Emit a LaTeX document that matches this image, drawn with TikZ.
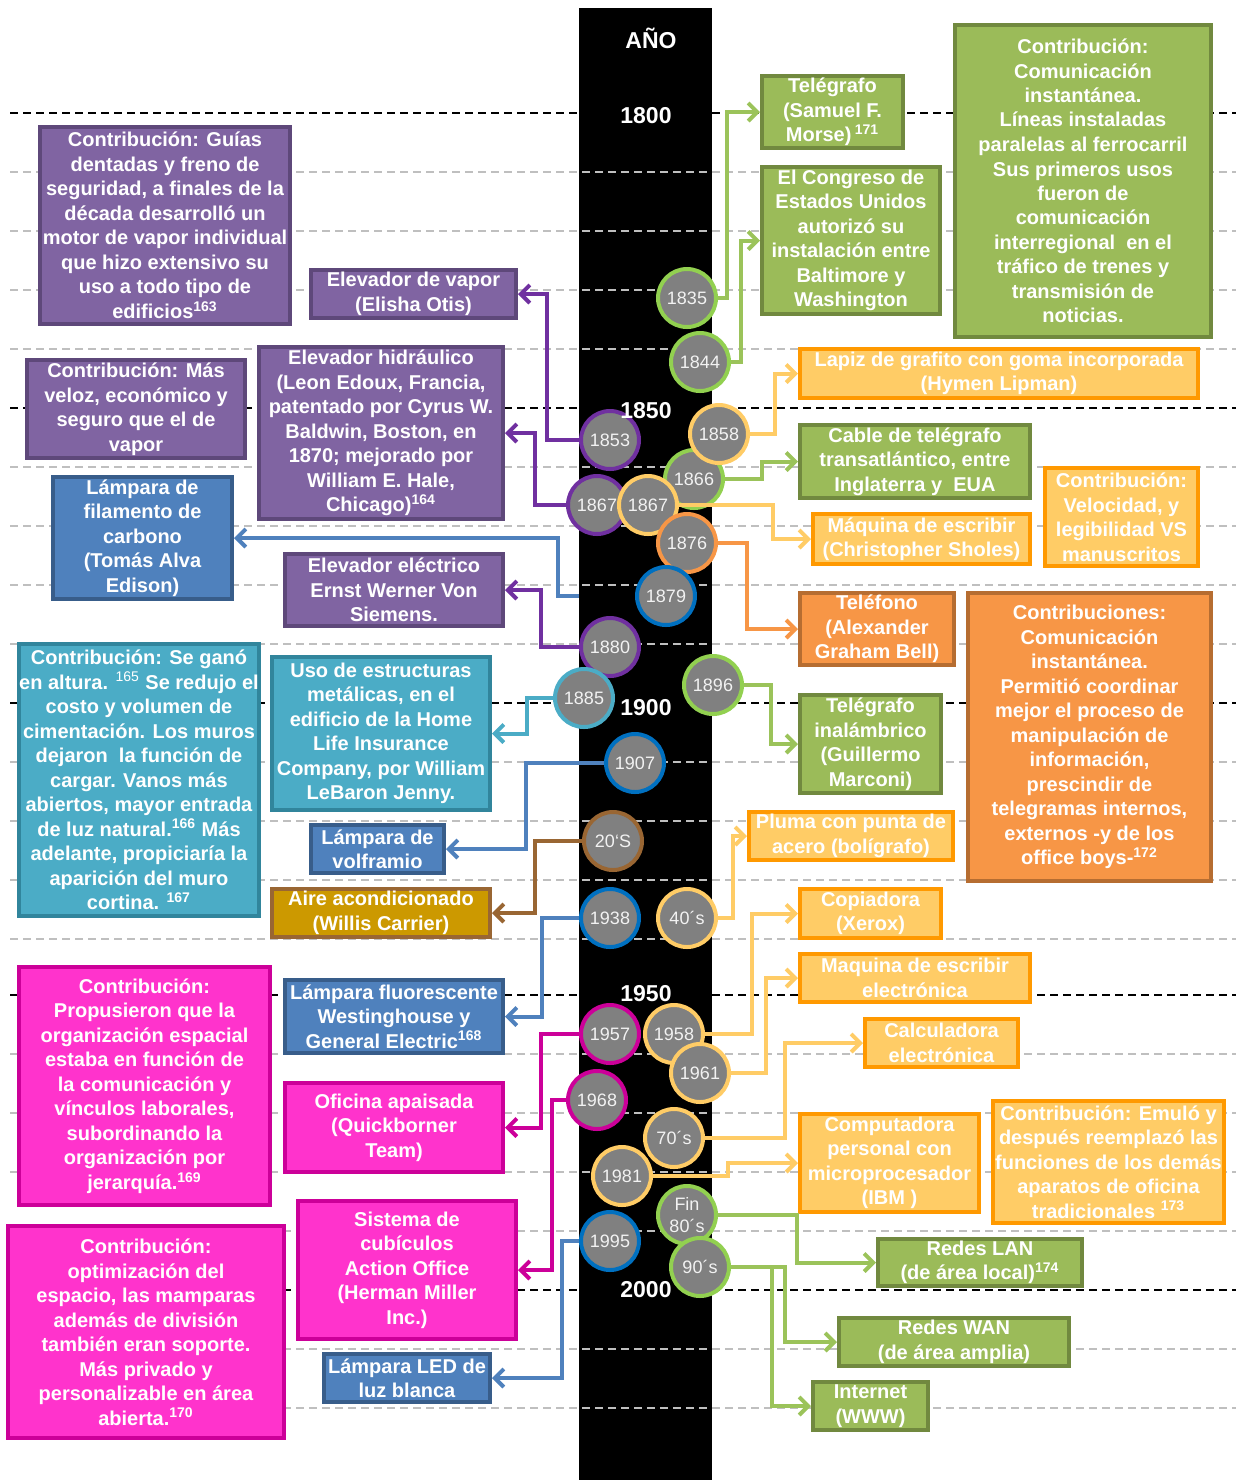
\documentclass[tikz,border=0pt]{standalone}
\usepackage{fontspec}
\setmainfont{Liberation Sans}
\usepackage{tikz}
\usetikzlibrary{arrows.meta}
% box fills and frames
\definecolor{pfill}{RGB}{128,100,162}
\definecolor{pedge}{RGB}{94,72,122}
\definecolor{bfill}{RGB}{79,129,189}
\definecolor{bedge}{RGB}{56,93,138}
\definecolor{tfill}{RGB}{75,172,198}
\definecolor{tedge}{RGB}{49,133,156}
\definecolor{gfill}{RGB}{155,187,89}
\definecolor{gedge}{RGB}{113,137,63}
\definecolor{yfill}{RGB}{255,204,102}
\definecolor{yedge}{RGB}{255,153,0}
\definecolor{ofill}{RGB}{247,150,70}
\definecolor{oedge}{RGB}{182,109,49}
\definecolor{afill}{RGB}{204,153,0}
\definecolor{aedge}{RGB}{153,102,51}
\definecolor{mfill}{RGB}{255,51,204}
\definecolor{medge}{RGB}{204,0,153}
% rings and connectors
\definecolor{rpurple}{RGB}{112,48,160}
\definecolor{rgreen}{RGB}{146,208,80}
\definecolor{ryellow}{RGB}{255,204,102}
\definecolor{rorange}{RGB}{247,150,70}
\definecolor{rblue}{RGB}{0,112,192}
\definecolor{rteal}{RGB}{75,172,198}
\definecolor{rbrown}{RGB}{153,102,51}
\definecolor{rmagenta}{RGB}{204,0,153}
\definecolor{lblue}{RGB}{79,129,189}
\definecolor{lgreen}{RGB}{155,195,90}
\definecolor{dashgray}{RGB}{191,191,191}
\definecolor{discgray}{RGB}{128,128,128}

\begin{document}
\begin{tikzpicture}[x=0.5pt,y=-0.5pt,
  box/.style={draw,line width=2pt,align=center,inner sep=0pt,text=white,
    font=\fontsize{10}{12.25}\selectfont\bfseries},
  wh/.style 2 args={minimum width=#1*0.5pt,minimum height=#2*0.5pt},
  pbox/.style={box,fill=pfill,draw=pedge},
  bbox/.style={box,fill=bfill,draw=bedge},
  tbox/.style={box,fill=tfill,draw=tedge},
  gbox/.style={box,fill=gfill,draw=gedge},
  ybox/.style={box,fill=yfill,draw=yedge},
  obox/.style={box,fill=ofill,draw=oedge},
  abox/.style={box,fill=afill,draw=aedge},
  mbox/.style={box,fill=mfill,draw=medge},
  yr/.style={circle,fill=discgray,draw=#1,line width=2pt,minimum size=29pt,
    inner sep=0pt,align=center,text=white!95!black,
    font=\fontsize{9}{11}\selectfont},
  link/.style={line width=2pt,-{Straight Barb[length=4.5pt,width=9pt]}},
  yearlbl/.style={text=white,font=\fontsize{11.5}{13}\selectfont\bfseries}]
  \fill[white] (0,0) rectangle (1236,1480);
  \useasboundingbox (0,0) rectangle (1236,1480);
  % --- time bar ---
  \fill[black] (579,8) rectangle (712,1480);
  % --- decade lines (black) and 10-year lines (gray) ---
  \foreach \y in {113,408,703,995,1290}
    \draw[black,line width=1pt,dash pattern=on 4pt off 2.5pt] (10,\y) -- (1236,\y);
  \foreach \y in {172,231,290,349,467,526,585,644,762,821,880,939,
                  1054,1113,1172,1231,1349,1408}
    \draw[dashgray,line width=1pt,dash pattern=on 4pt off 2.5pt] (10,\y) -- (1236,\y);

  % --- left column ---
  \node[pbox,wh={250}{197}] (guias) at (165,225.5)
    {Contribución: Guías\\dentadas y freno de\\seguridad, a finales de la\\década desarrolló un\\motor de vapor individual\\que hizo extensivo su\\uso a todo tipo de\\edificios\textsuperscript{163}};
  \node[pbox,wh={205}{48}] (vapor) at (413.5,294)
    {Elevador de vapor\\(Elisha Otis)};
  \node[pbox,wh={218}{98}] (masveloz) at (136,409)
    {Contribución: Más\\veloz, económico y\\seguro que el de\\vapor};
  \node[pbox,wh={244}{172}] (hidraulico) at (381,433)
    {Elevador hidráulico\\(Leon Edoux, Francia,\\patentado por Cyrus W.\\Baldwin, Boston, en\\1870; mejorado por\\William E. Hale,\\Chicago)\textsuperscript{164}};
  \node[bbox,wh={179}{122}] (filamento) at (142.5,538)
    {Lámpara de\\filamento de\\carbono\\(Tomás Alva\\Edison)};
  \node[pbox,wh={218}{72}] (electrico) at (394,590)
    {Elevador eléctrico\\Ernst Werner Von\\Siemens.};
  \node[tbox,wh={238}{272}] (altura) at (139,780)
    {Contribución: Se ganó\\en altura. \textsuperscript{\mdseries 165} Se redujo el\\costo y volumen de\\cimentación. Los muros\\dejaron\ \ la función de\\cargar. Vanos más\\abiertos, mayor entrada\\de luz natural.\textsuperscript{166} Más\\adelante, propiciaría la\\aparición del muro\\cortina. \textsuperscript{167}};
  \node[tbox,wh={218}{153}] (estructuras) at (381,733.5)
    {Uso de estructuras\\metálicas, en el\\edificio de la Home\\Life Insurance\\Company, por William\\LeBaron Jenny.};
  \node[bbox,wh={133}{48}] (volframio) at (377.5,849)
    {Lámpara de\\volframio};
  \node[abox,wh={218}{48}] (aire) at (381,913)
    {Aire acondicionado\\(Willis Carrier)};
  \node[mbox,wh={251}{238}] (propusieron) at (144.5,1086)
    {Contribución:\\Propusieron que la\\organización espacial\\estaba en función de\\la comunicación y\\vínculos laborales,\\subordinando la\\organización por\\jerarquía.\textsuperscript{169}};
  \node[bbox,wh={218}{73}] (fluorescente) at (394,1016.5)
    {Lámpara fluorescente\\Westinghouse y\\General Electric\textsuperscript{168}};
  \node[mbox,wh={218}{89}] (apaisada) at (394,1127.5)
    {Oficina apaisada\\(Quickborner\\Team)};
  \node[mbox,wh={218}{138}] (cubiculos) at (407,1270)
    {Sistema de\\cubículos\\Action Office\\(Herman Miller\\Inc.)};
  \node[mbox,wh={276}{212}] (mamparas) at (146,1332)
    {Contribución:\\optimización del\\espacio, las mamparas\\además de división\\también eran soporte.\\Más privado y\\personalizable en área\\abierta.\textsuperscript{170}};
  \node[bbox,wh={166}{48}] (led) at (407,1378)
    {Lámpara LED de\\luz blanca};

  % --- right column ---
  \node[gbox,wh={141}{72}] (morse) at (832.5,112)
    {Telégrafo\\(Samuel F.\\Morse)\,\textsuperscript{171}};
  \node[gbox,wh={178}{147}] (congreso) at (851,240.5)
    {El Congreso de\\Estados Unidos\\autorizó su\\instalación entre\\Baltimore y\\Washington};
  \node[gbox,wh={256}{312}] (comunic) at (1083,181)
    {Contribución:\\Comunicación\\instantánea.\\Líneas instaladas\\paralelas al ferrocarril\\Sus primeros usos\\fueron de\\comunicación\\interregional\ \ en el\\tráfico de trenes y\\transmisión de\\noticias.};
  \node[ybox,wh={398}{49}] (lapiz) at (999,373.5)
    {Lapiz de grafito con goma incorporada\\(Hymen Lipman)};
  \node[gbox,wh={230}{73}] (cable) at (915,461.5)
    {Cable de telégrafo\\transatlántico, entre\\Inglaterra y\ \ EUA};
  \node[ybox,wh={217}{50}] (sholes) at (921.5,539)
    {Máquina de escribir\\(Christopher Sholes)};
  \node[ybox,wh={153}{98}] (velocidad) at (1121.5,517)
    {Contribución:\\Velocidad, y\\legibilidad VS\\manuscritos};
  \node[obox,wh={154}{72}] (telefono) at (877,629)
    {Teléfono\\(Alexander\\Graham Bell)};
  \node[obox,wh={243}{288}] (contrib) at (1089.5,737)
    {Contribuciones:\\Comunicación\\instantánea.\\Permitió coordinar\\mejor el proceso de\\manipulación de\\información,\\prescindir de\\telegramas internos,\\externos -y de los\\office boys-\textsuperscript{172}};
  \node[gbox,wh={141}{98}] (marconi) at (870.5,744)
    {Telégrafo\\inalámbrico\\(Guillermo\\Marconi)};
  \node[ybox,wh={204}{48}] (pluma) at (851,836)
    {Pluma con punta de\\acero (bolígrafo)};
  \node[ybox,wh={141}{49}] (xerox) at (870.5,913.5)
    {Copiadora\\(Xerox)};
  \node[ybox,wh={230}{48}] (electronica) at (915,978)
    {Maquina de escribir\\electrónica};
  \node[ybox,wh={153}{48}] (calc) at (941.5,1043)
    {Calculadora\\electrónica};
  \node[ybox,wh={179}{98}] (ibm) at (889.5,1163)
    {Computadora\\personal con\\microprocesador\\(IBM )};
  \node[ybox,wh={231}{122}] (emulo) at (1108.5,1162)
    {Contribución: Emuló y\\después reemplazó las\\funciones de los demás\\aparatos de oficina\\tradicionales \textsuperscript{173}};
  \node[gbox,wh={204}{47}] (lan) at (980,1262.5)
    {Redes LAN\\(de área local)\textsuperscript{174}};
  \node[gbox,wh={230}{48}] (wan) at (954,1342)
    {Redes WAN\\(de área amplia)};
  \node[gbox,wh={115}{48}] (www) at (870.5,1406)
    {Internet\\(WWW)};

  % --- year discs (later ones sit on top) ---
  \foreach \nm/\x/\y/\rc/\lbl in {
      1835/687/298/rgreen/1835, 1844/700/362/rgreen/1844,
      1853/610/440/rpurple/1853, 1866/694/479/rgreen/1866,
      1858/719/434/ryellow/1858, 1867a/597/505/rpurple/1867,
      1867b/648/505/ryellow/1867, 1876/687/543/rorange/1876,
      1879/666/596/rblue/1879, 1880/610/647/rpurple/1880,
      1885/584/698/rteal/1885, 1896/713/685/rgreen/1896,
      1907/635/763/rblue/1907, 20s/613/841/rbrown/20\char"60S,
      1938/610/918/rblue/1938, 40s/687/918/ryellow/40´s,
      1957/610/1034/rmagenta/1957, 1958/674/1034/ryellow/1958,
      1961/700/1073/ryellow/1961, 1968/597/1100/rmagenta/1968,
      70s/674/1138/ryellow/70´s, 1981/622/1176/ryellow/1981,
      1995/610/1241/rblue/1995}
    \node[yr=\rc] (c\nm) at (\x,\y) {\lbl};
  \node[yr=rgreen] (c80s) at (687,1215) {Fin\\80´s};
  \node[yr=rgreen] (c90s) at (700,1267) {90´s};

  % --- connectors to the left ---
  \coordinate (e1879) at (579,596);
  \draw[link,draw=lblue] (e1879) -- ++(-21,0) |- (filamento.east);
  \foreach \a/\d/\b/\rc in {1853/-32/vapor/rpurple, 1867a/-31/hidraulico/rpurple,
      1880/-38/electrico/rpurple, 1885/-26/estructuras/rteal,
      1907/-78/volframio/lblue, 20s/-47/aire/rbrown,
      1938/-37/fluorescente/lblue, 1957/-38/apaisada/rmagenta,
      1968/-14/cubiculos/rmagenta, 1995/-17/led/lblue}
    \draw[link,draw=\rc] (c\a.west) -- ++(\d,0) |- (\b.east);
  % --- connectors to the right ---
  \foreach \a/\d/\b/\rc in {1835/9/morse/lgreen, 1844/10/congreso/lgreen,
      1858/25/lapiz/ryellow, 1866/37/cable/lgreen, 1867b/94/sholes/ryellow,
      1876/29/telefono/rorange, 1896/27/marconi/lgreen, 40s/15/pluma/ryellow,
      1958/47/xerox/ryellow, 1961/35/electronica/ryellow, 70s/80/calc/ryellow,
      1981/75/ibm/ryellow, 80s/79/lan/lgreen, 90s/54/wan/lgreen,
      90s/41/www/lgreen}
    \draw[link,draw=\rc] (c\a.east) -- ++(\d,0) |- (\b.west);

  % --- bar labels ---
  \node[yearlbl] (ano) at (651,38) {AÑO};
  \foreach \y/\yr in {116/1800,411/1850,708/1900,994/1950,1290/2000}
    \node[yearlbl] (y\yr) at (646,\y) {\yr};
\end{tikzpicture}
\end{document}
